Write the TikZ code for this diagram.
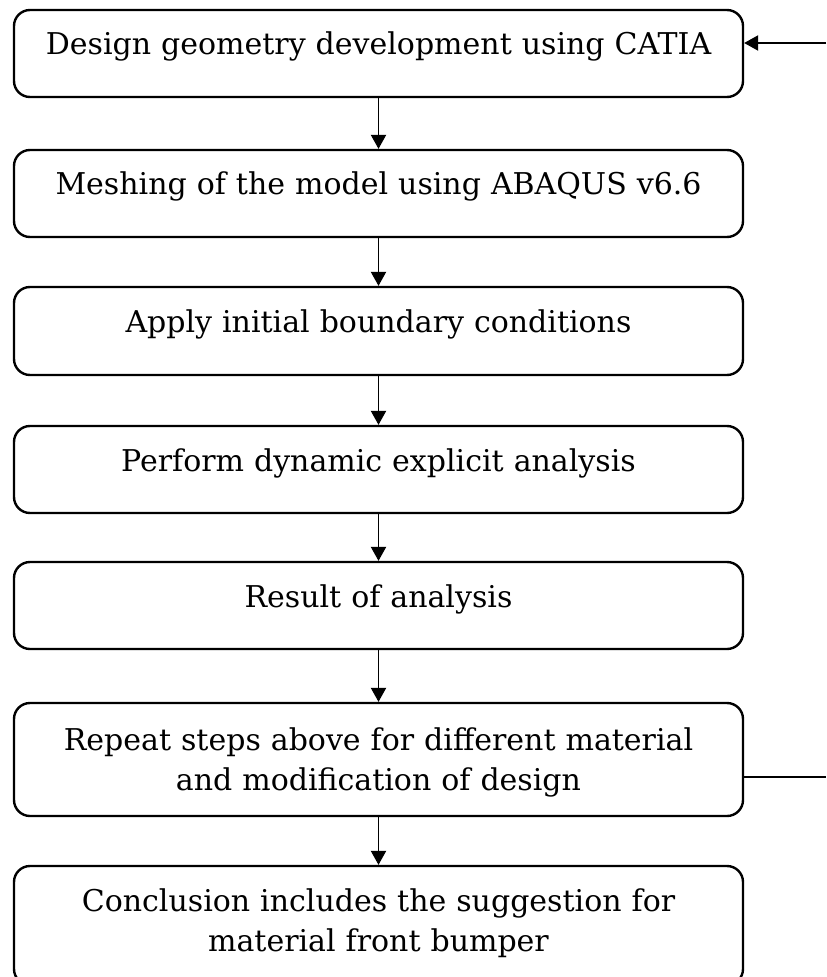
\documentclass[tikz,border=0pt]{standalone}
\usepackage{fontspec}
\setmainfont{DejaVu Serif}
\usetikzlibrary{arrows.meta}
\tikzset{
  box/.style={draw, line width=1.8pt, rounded corners=12pt, minimum width=546.75pt, inner sep=0pt},
  lbl/.style={anchor=base, inner sep=0pt, text width=540pt, align=center, font=\fontsize{22.5}{30}\selectfont},
  arr/.style={line width=0.8pt, -{Triangle[length=10.5pt, width=11.5pt]}},
  ln/.style={line width=0.8pt}
}
\begin{document}
\begin{tikzpicture}[x=0.75pt, y=-0.75pt]
\useasboundingbox (0,0) rectangle (826,977);
\node[box, minimum height=65.25pt] (b1) at (378.5,53.5) {};
\node[box, minimum height=65.25pt] (b2) at (378.5,193.5) {};
\node[box, minimum height=66pt] (b3) at (378.5,331) {};
\node[box, minimum height=65.25pt] (b4) at (378.5,469.5) {};
\node[box, minimum height=65.25pt] (b5) at (378.5,605.5) {};
\node[box, minimum height=84.75pt] (b6) at (378.5,759.5) {};
\node[box, minimum height=89.25pt] (b7) at (378.5,925.5) {};
\node[lbl] (t1) at (378.5,55) {Design geometry development using CATIA};
\node[lbl] (t2) at (378.5,195) {Meshing of the model using ABAQUS v6.6};
\node[lbl] (t3) at (378.5,332) {Apply initial boundary conditions};
\node[lbl] (t4) at (378.5,471) {Perform dynamic explicit analysis};
\node[lbl] (t5) at (378.5,607) {Result of analysis};
\node[lbl] (t6) at (378.5,750) {Repeat steps above for different material\\and modification of design};
\node[lbl] (t7) at (378.5,911) {Conclusion includes the suggestion for\\material front bumper};
\draw[arr] (b1.south) -- (b2.north);
\draw[arr] (b2.south) -- (b3.north);
\draw[arr] (b3.south) -- (b4.north);
\draw[arr] (b4.south) -- (b5.north);
\draw[arr] (b5.south) -- (b6.north);
\draw[arr] (b6.south) -- (b7.north);
\coordinate (fbA) at (826,777);
\coordinate (fbB) at (826,43);
\draw[ln] (b6.east |- fbA) -- (fbA);
\draw[arr] (fbB) -- (b1.east |- fbB);
\end{tikzpicture}
\end{document}
